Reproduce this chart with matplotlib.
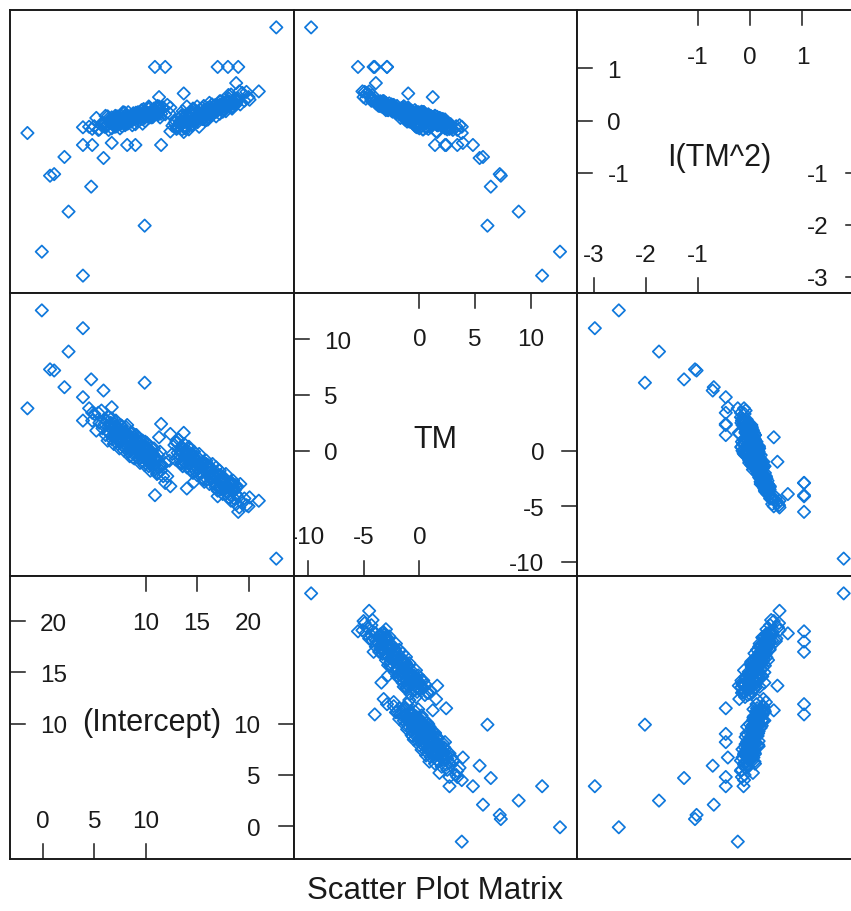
import numpy as np
import matplotlib
matplotlib.use('Agg')
import matplotlib.pyplot as plt

plt.rcParams['font.family'] = ['Liberation Sans', 'DejaVu Sans']

VAR_NAMES = ['(Intercept)', 'TM', 'I(TM^2)']
TICKS_LOW = [[0, 5, 10], [-10, -5, 0], [-3, -2, -1]]     # bottom / right side of diagonal
TICKS_HIGH = [[10, 15, 20], [0, 5, 10], [-1, 0, 1]]      # top / left side of diagonal

# ---- coefficient estimates ----
# lower-intercept cluster
a_int = [4.5, 4.8, 5.0, 5.2, 5.4, 5.5, 5.7, 5.8, 6.0, 6.1, 6.2, 6.3, 6.4, 6.5, 6.6, 6.7,
         6.75, 6.8, 6.9, 7.0, 7.05, 7.1, 7.2, 7.25, 7.3, 7.4, 7.45, 7.5, 7.6, 7.65, 7.7,
         7.8, 7.85, 7.9, 8.0, 8.05, 8.1, 8.2, 8.25, 8.3, 8.4, 8.45, 8.5, 8.6, 8.65, 8.7,
         8.8, 8.85, 8.9, 9.0, 9.05, 9.1, 9.2, 9.25, 9.3, 9.4, 9.45, 9.5, 9.6, 9.65, 9.7,
         9.8, 9.85, 9.9, 10.0, 10.05, 10.1, 10.2, 10.25, 10.3, 10.4, 10.45, 10.5, 10.6,
         10.7, 10.8, 10.9, 11.0, 11.1, 11.2, 11.3, 11.4, 11.5, 11.6, 11.7, 11.9, 12.1,
         12.3, 6.35, 7.15, 7.55, 7.95, 8.35, 8.75, 9.15, 9.55, 9.95, 10.35, 10.75, 11.15]
a_tm = [3.8, 2.7, 3.3, 1.8, 3.4, 2.5, 3.6, 2.0, 2.4, 1.4, 2.7, 0.9, 3.0, 1.6, 2.3, 2.9,
        1.0, 2.1, 0.6, 2.4, 1.4, 2.7, 1.0, 1.6, 0.6, 1.9, 0.2, 2.3, 0.9, 1.6, 2.2, 0.4,
        1.4, 0.0, 1.7, 0.8, 2.1, 0.4, 1.0, -0.1, 1.3, -0.5, 1.6, 0.2, 1.0, 1.6, -0.3,
        0.8, -0.7, 1.1, 0.1, 1.4, -0.3, 0.3, -0.7, 0.6, -1.1, 0.9, -0.4, 0.3, 0.9, -1.0,
        0.1, -1.3, 0.4, -0.5, 0.7, -0.9, -0.4, -1.4, -0.1, -1.8, 0.3, -1.1, -0.4, 0.2,
        -1.7, -0.7, -2.1, -0.4, -1.4, -0.1, -1.8, -1.3, -2.3, -1.1, -2.3, -0.9, 1.7, 2.0,
        2.3, 0.3, 1.1, -0.6, 1.0, -0.2, 0.8, -1.0, -0.7, -2.0]
a_tm2 = [-0.12, -0.16, -0.11, 0.05, -0.18, -0.17, -0.09, -0.04, -0.12, 0.09, -0.11,
         0.08, -0.18, 0.00, 0.02, -0.15, -0.06, 0.01, 0.05, -0.12, 0.09, -0.11, 0.08,
         -0.09, 0.07, 0.04, 0.04, -0.15, 0.09, -0.02, -0.11, 0.16, -0.02, 0.15, -0.09,
         0.06, 0.03, 0.03, -0.06, 0.16, 0.01, 0.08, 0.07, 0.06, 0.08, -0.09, 0.14, 0.12,
         0.10, -0.07, 0.15, 0.00, 0.07, 0.16, 0.12, 0.10, 0.10, 0.05, 0.20, 0.03, -0.06,
         0.22, 0.09, 0.14, 0.16, 0.11, 0.10, 0.09, 0.14, 0.27, 0.06, 0.13, 0.13, 0.17,
         0.07, 0.17, 0.19, 0.19, 0.17, 0.14, 0.27, 0.06, 0.13, 0.25, 0.25, 0.12, 0.30,
         0.14, 0.03, -0.11, -0.04, 0.15, -0.02, 0.05, 0.09, 0.11, -0.01, 0.25, 0.12, 0.28]

# dense core of the lower cluster
ac_int = [6.0, 6.3, 6.5, 6.7, 6.9, 7.0, 7.1, 7.2, 7.3, 7.4, 7.5, 7.6, 7.7, 7.8, 7.9,
          8.0, 8.1, 8.2, 8.3, 8.4, 8.5, 8.6, 8.7, 8.8, 8.9, 9.0, 9.1, 9.2, 9.3, 9.4,
          9.5, 9.6, 9.7, 9.8, 9.9, 10.0, 10.1, 10.2, 10.3, 10.4, 10.5, 10.6, 10.7, 10.8,
          10.9, 11.0, 11.2, 11.4, 6.6, 7.45]
ac_tm = [2.8, 1.7, 2.1, 1.3, 2.0, 1.6, 2.2, 2.0, 1.1, 1.5, 0.8, 1.6, 1.1, 1.8, 1.6,
         0.6, 1.1, 0.3, 1.1, 0.7, 1.3, 1.1, 0.2, 0.6, -0.2, 0.7, 0.2, 0.8, 0.7, -0.3,
         0.1, -0.6, 0.2, -0.3, 0.4, 0.2, -0.8, -0.3, -1.1, -0.3, -0.7, -0.1, -0.3, -1.2,
         -0.8, -1.6, -0.8, -1.3, 2.5, 1.0]
ac_tm2 = [-0.07, -0.06, -0.05, 0.06, -0.06, 0.02, -0.10, -0.04, 0.07, -0.03, 0.07,
          -0.06, 0.02, 0.02, -0.04, 0.08, -0.02, 0.07, 0.07, 0.03, 0.04, -0.02, 0.08,
          0.10, 0.09, 0.08, 0.04, 0.04, 0.10, 0.10, 0.12, 0.10, 0.08, 0.17, 0.05, 0.11,
          0.11, 0.12, 0.22, 0.10, 0.17, 0.06, 0.12, 0.23, 0.13, 0.24, 0.11, 0.19, -0.03,
          0.01]

# upper-intercept cluster
b_int = [12.4, 12.6, 12.8, 12.9, 13.0, 13.1, 13.2, 13.3, 13.4, 13.5, 13.55, 13.6, 13.7,
         13.75, 13.8, 13.9, 14.0, 14.05, 14.1, 14.2, 14.3, 14.35, 14.4, 14.5, 14.6, 14.65,
         14.7, 14.8, 14.9, 15.0, 15.05, 15.1, 15.2, 15.3, 15.4, 15.5, 15.6, 15.7, 15.8,
         15.9, 16.0, 16.1, 16.2, 16.3, 16.4, 16.5, 16.6, 16.7, 16.8, 16.9, 17.0, 17.1,
         17.2, 17.3, 17.4, 17.5, 17.6, 17.7, 17.8, 17.9, 18.0, 18.1, 18.2, 18.3, 18.4,
         18.5, 18.6, 18.7, 18.8, 18.9, 19.0, 19.2, 19.4, 19.6, 19.8, 20.1, 13.45, 13.85,
         14.25, 14.75, 15.25, 15.65, 16.05, 16.45, 16.85, 17.25, 17.65, 18.05, 18.45, 19.1]
b_tm = [1.5, -0.3, 0.5, -0.8, 0.8, -0.2, 1.0, -0.5, -0.1, -1.1, 0.3, -1.4, 0.1, 0.6,
        -1.1, -0.3, -1.5, 0.0, -0.9, 0.35, -1.2, -0.8, -1.7, -0.4, -2.0, -0.6, -0.1,
        -1.8, -0.9, -2.2, -0.6, -1.6, -0.3, -1.9, -1.5, -2.4, -1.1, -2.8, -1.3, -0.9,
        -2.6, -1.7, -3.0, -1.5, -2.4, -1.2, -2.8, -2.4, -3.3, -2.0, -3.6, -2.2, -1.8,
        -3.5, -2.6, -3.9, -2.4, -3.3, -2.1, -3.7, -3.2, -4.2, -2.9, -4.5, -3.1, -2.7,
        -4.3, -3.5, -4.8, -3.2, -4.2, -3.0, -4.7, -4.3, -4.9, -4.2, -1.2, 0.0, 0.2, -1.7,
        -1.2, -2.6, -1.3, -2.5, -1.5, -3.2, -3.0, -4.2, -3.0, -5.1]
b_tm2 = [-0.21, -0.10, -0.05, -0.01, -0.16, -0.13, -0.13, -0.02, -0.03, 0.10, -0.17,
         0.18, -0.11, -0.14, -0.02, 0.03, 0.10, -0.04, 0.08, -0.17, 0.15, -0.01, 0.13,
         -0.10, 0.23, -0.01, -0.03, 0.18, -0.02, 0.27, -0.03, 0.12, -0.12, 0.21, 0.10,
         0.24, 0.10, 0.20, 0.16, 0.01, 0.24, 0.05, 0.34, 0.10, 0.24, 0.11, 0.20, 0.29,
         0.29, 0.17, 0.28, 0.25, 0.13, 0.37, 0.28, 0.33, 0.29, 0.29, 0.18, 0.29, 0.37,
         0.42, 0.30, 0.50, 0.24, 0.33, 0.41, 0.34, 0.42, 0.37, 0.42, 0.31, 0.53, 0.38,
         0.55, 0.40, 0.07, -0.15, -0.03, 0.12, 0.10, 0.28, 0.02, 0.31, 0.08, 0.31, 0.20,
         0.49, 0.27, 0.56]

# dense core of the upper cluster
bc_int = [13.0, 13.3, 13.6, 13.9, 14.1, 14.3, 14.5, 14.7, 14.9, 15.1, 15.3, 15.5, 15.7,
          15.9, 16.1, 16.3, 16.5, 16.7, 16.9, 17.1, 17.3, 17.5, 17.7, 17.9, 18.1, 18.3,
          18.5, 18.7, 13.45, 13.75, 14.05, 14.4, 14.8, 15.2, 15.6, 16.0, 16.4, 16.8,
          17.2, 17.6, 18.0, 18.4, 18.8, 15.0, 16.6]
bc_tm = [0.7, -0.4, -0.2, -1.1, -0.3, -0.8, -0.3, -0.5, -1.5, -1.2, -2.0, -1.2, -1.8,
         -1.2, -1.4, -2.5, -2.1, -3.0, -2.2, -2.7, -2.2, -2.4, -3.4, -3.1, -3.9, -3.1,
         -3.7, -3.1, 0.35, -0.75, -0.45, -1.4, -0.8, -1.4, -1.0, -1.4, -2.5, -2.3, -3.3,
         -2.7, -3.3, -2.9, -3.3, -1.6, -2.2]
bc_tm2 = [-0.12, -0.06, -0.05, 0.11, -0.05, 0.05, -0.07, -0.01, 0.16, 0.05, 0.20, 0.03,
          0.14, 0.12, 0.08, 0.26, 0.14, 0.28, 0.24, 0.23, 0.22, 0.17, 0.33, 0.35, 0.37,
          0.33, 0.33, 0.30, -0.06, 0.00, 0.01, 0.06, 0.02, 0.15, 0.03, 0.13, 0.19, 0.20,
          0.37, 0.23, 0.35, 0.23, 0.32, 0.17, 0.17]

# scattered estimates away from the two clusters
o_int = [22.7, -0.1, 3.9, 2.5, 9.9, 4.7, 1.1, 0.7, 2.1, 5.9, -1.5, 3.9, 4.8, 3.9, 11.5,
         21.0, 10.9, 11.9, 17.0, 18.0, 19.0, 18.8, 11.3, 13.7, 20.0, 8.2, 9.0, 6.7, 13.7,
         14.0, 14.7, 12.4]
o_tm = [-9.7, 12.6, 11.0, 8.9, 6.1, 6.4, 7.2, 7.3, 5.7, 5.4, 3.8, 4.8, 3.4, 2.7, 2.4,
        -4.5, -4.0, -2.9, -4.1, -2.9, -5.5, -3.9, 1.2, -1.0, -5.0, 2.3, 1.4, 3.9, 1.6,
        -3.4, -2.8, -3.2]
o_tm2 = [1.79, -2.52, -2.98, -1.75, -2.02, -1.27, -1.03, -1.06, -0.70, -0.72, -0.24,
         -0.47, -0.47, -0.13, -0.47, 0.56, 1.03, 1.03, 1.03, 1.03, 1.03, 0.72, 0.45, 0.52,
         0.45, -0.47, -0.47, -0.43, -0.22, 0.27, 0.22, 0.25]

groups = [(a_int, a_tm, a_tm2), (ac_int, ac_tm, ac_tm2), (b_int, b_tm, b_tm2),
          (bc_int, bc_tm, bc_tm2), (o_int, o_tm, o_tm2)]
for grp in groups:
    assert len(grp[0]) == len(grp[1]) == len(grp[2]), [len(g) for g in grp]

intercept = np.concatenate([g[0] for g in groups])
tm = np.concatenate([g[1] for g in groups])
tm2 = np.concatenate([g[2] for g in groups])
data = [intercept, tm, tm2]


def lims(v):
    # lattice-style padding of 7% on each side
    lo, hi = v.min(), v.max()
    pad = 0.07 * (hi - lo)
    return lo - pad, hi + pad


W, H = 851, 912
LEFT, TOP, PW, PH = 10, 11, 283.7, 283
PT_COL = '#0f78dc'
INK = '#1a1a1a'

fig = plt.figure(figsize=(W / 100, H / 100), dpi=100)

for row in range(3):
    for col in range(3):
        vx, vy = col, 2 - row
        x0 = LEFT + col * PW
        y0 = TOP + row * PH
        ax = fig.add_axes([x0 / W, 1 - (y0 + PH) / H, PW / W, PH / H])
        ax.set_xlim(*lims(data[vx]))
        ax.set_ylim(*lims(data[vy]))
        ax.set_xticks([]); ax.set_yticks([])
        for s in ax.spines.values():
            s.set_linewidth(1.4)
            s.set_color(INK)

        if vx != vy:
            ax.scatter(data[vx], data[vy], s=40, marker='D', facecolors='none',
                       edgecolors=PT_COL, linewidths=1.25)
            continue

        # diagonal panel: variable name + axis ticks drawn inside
        ax.text(0.5, 0.5 - 5 / PH, VAR_NAMES[vx], transform=ax.transAxes, ha='center',
                va='center', fontsize=22, color=INK)
        tlx, tly = 15 / PW, 15 / PH
        xt = ax.get_xaxis_transform()
        yt = ax.get_yaxis_transform()
        dy = (ax.get_ylim()[1] - ax.get_ylim()[0]) * 2.5 / PH   # labels sit a bit below the tick
        for t in TICKS_HIGH[vx]:
            ax.plot([t, t], [1, 1 - tly], transform=xt, color=INK, lw=1.1)
            ax.text(t, 1 - 46.5 / PH, str(t), transform=xt, ha='center', va='center',
                    fontsize=17.5, color=INK, clip_on=True)
            ax.plot([0, tlx], [t, t], transform=yt, color=INK, lw=1.1)
            ax.text(30 / PW, t - dy, str(t), transform=yt, ha='left', va='center',
                    fontsize=17.5, color=INK, clip_on=True)
        for t in TICKS_LOW[vx]:
            ax.plot([t, t], [0, tly], transform=xt, color=INK, lw=1.1)
            ax.text(t, 38.5 / PH, str(t), transform=xt, ha='center', va='center',
                    fontsize=17.5, color=INK, clip_on=True)
            ax.plot([1, 1 - tlx], [t, t], transform=yt, color=INK, lw=1.1)
            ax.text(1 - 33 / PW, t - dy, str(t), transform=yt, ha='right', va='center',
                    fontsize=17.5, color=INK, clip_on=True)

fig.text(435 / W, 1 - 891 / H, 'Scatter Plot Matrix', ha='center', va='center',
         fontsize=22.5, color=INK)

fig.savefig('out.png', dpi=100)
